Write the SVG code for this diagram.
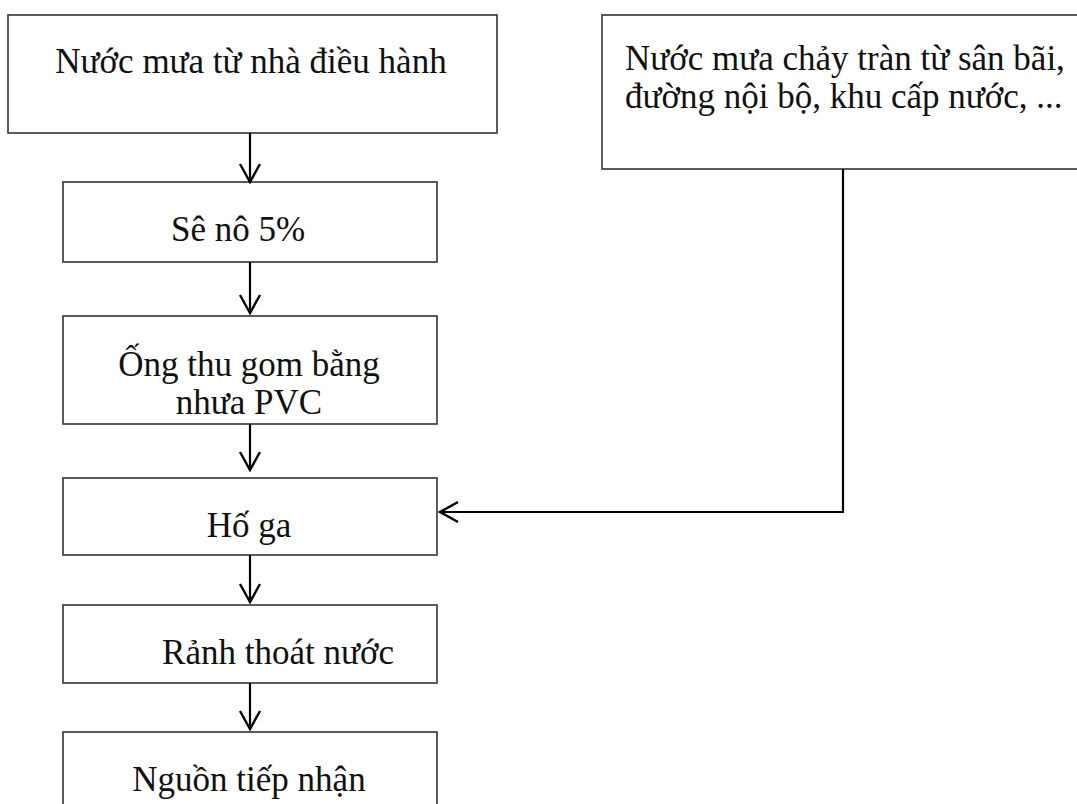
<svg xmlns="http://www.w3.org/2000/svg" width="1077" height="804" viewBox="0 0 1077 804">
<defs>
<style>
.box{fill:#fff;stroke:#333;stroke-width:1.6}
.t{font-family:"Liberation Serif","Times New Roman",serif;font-size:35px;fill:#111}
.c{text-anchor:middle}
.conn{fill:none;stroke:#000;stroke-width:2.2}
</style>
<marker id="ah" markerWidth="22" markerHeight="24" refX="20" refY="12" orient="auto" markerUnits="userSpaceOnUse">
<path d="M2,2 L20,12 L2,22" fill="none" stroke="#000" stroke-width="2.4"/>
</marker>
</defs>
<rect width="1077" height="804" fill="#fff"/>
<g id="n1"><rect class="box" x="8" y="15" width="489" height="118"/><text class="t c" x="251" y="73">Nước mưa từ nhà điều hành</text></g>
<g id="n7"><rect class="box" x="602" y="15" width="480" height="154"/><text class="t" x="625" y="70">Nước mưa chảy tràn từ sân bãi,</text><text class="t" x="625" y="108">đường nội bộ, khu cấp nước, ...</text></g>
<g id="n2"><rect class="box" x="63" y="182" width="374" height="80"/><text class="t c" x="238" y="241">Sê nô 5%</text></g>
<g id="n3"><rect class="box" x="63" y="316" width="374" height="108"/><text class="t c" x="249" y="376">Ống thu gom bằng</text><text class="t c" x="249" y="414">nhưa PVC</text></g>
<g id="n4"><rect class="box" x="63" y="478" width="374" height="77"/><text class="t c" x="249" y="537">Hố ga</text></g>
<g id="n5"><rect class="box" x="63" y="605" width="374" height="78"/><text class="t c" x="278" y="664">Rảnh thoát nước</text></g>
<g id="n6"><rect class="box" x="63" y="732" width="374" height="80"/><text class="t c" x="249" y="791">Nguồn tiếp nhận</text></g>
<g id="connectors">
<path class="conn" d="M250,133 V182" marker-end="url(#ah)"/>
<path class="conn" d="M250,262 V313" marker-end="url(#ah)"/>
<path class="conn" d="M250,424 V470" marker-end="url(#ah)"/>
<path class="conn" d="M250,555 V602" marker-end="url(#ah)"/>
<path class="conn" d="M250,683 V729" marker-end="url(#ah)"/>
<path class="conn" d="M843,169 V512 H440" marker-end="url(#ah)"/>
</g>
</svg>
